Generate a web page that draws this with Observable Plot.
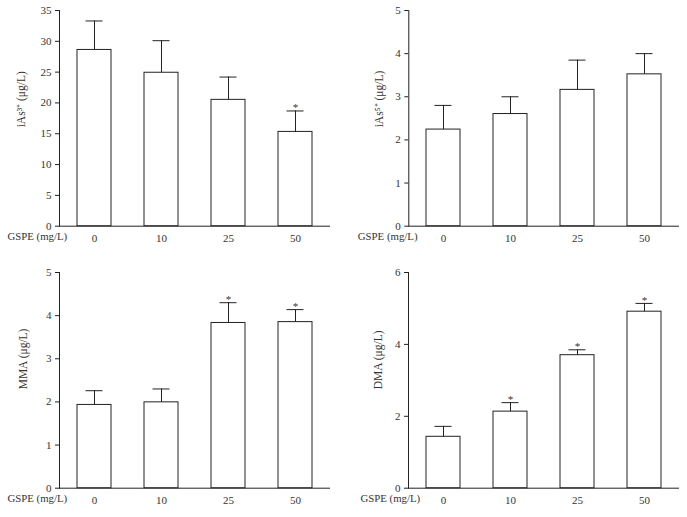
<!DOCTYPE html>
<html>
<head>
<meta charset="utf-8">
<script src="https://cdn.jsdelivr.net/npm/d3@7"></script>
<script src="https://cdn.jsdelivr.net/npm/@observablehq/plot@0.6"></script>
<style>
  html, body { margin: 0; padding: 0; background: #fff; }
  #wrap { position: relative; width: 687px; height: 517px; background: #fff; overflow: hidden; }
  #wrap > div { position: absolute; }
</style>
</head>
<body>
<div id="wrap">
  <div id="p1" style="left:0px;top:0px"></div>
  <div id="p2" style="left:344px;top:0px"></div>
  <div id="p3" style="left:0px;top:262.3px"></div>
  <div id="p4" style="left:344px;top:262.3px"></div>
</div>
<script>
// ---- data ----
const doses = ["0", "10", "25", "50"];
const xTitle = "GSPE (mg/L)";

const iAs3Mean = [28.6, 24.9, 20.5, 15.3];
const iAs3SD   = [4.7, 5.2, 3.7, 3.4];
const iAs3Sig  = [false, false, false, true];

const iAs5Mean = [2.24, 2.60, 3.16, 3.52];
const iAs5SD   = [0.56, 0.40, 0.69, 0.48];
const iAs5Sig  = [false, false, false, false];

const mmaMean = [1.93, 1.99, 3.83, 3.85];
const mmaSD   = [0.33, 0.31, 0.47, 0.29];
const mmaSig  = [false, false, true, true];

const dmaMean = [1.43, 2.13, 3.70, 4.91];
const dmaSD   = [0.29, 0.25, 0.15, 0.23];
const dmaSig  = [false, true, true, true];

const iAs3Ticks = [0, 5, 10, 15, 20, 25, 30, 35];
const iAs5Ticks = [0, 1, 2, 3, 4, 5];
const mmaTicks  = [0, 1, 2, 3, 4, 5];
const dmaTicks  = [0, 2, 4, 6];

const iAs3Label = "iAs\u00B3\u207A (\u03BCg/L)";
const iAs5Label = "iAs\u2075\u207A (\u03BCg/L)";
const mmaLabel  = "MMA (\u03BCg/L)";
const dmaLabel  = "DMA (\u03BCg/L)";

const ink = "#222";

function panel({mean, sd, sig, ticks, label, labelOffset, marginLeft, marginRight, titleDx}) {
  const rows = doses.map((d, i) => ({dose: d, v: mean[i], e: mean[i] + sd[i], sig: sig[i]}));
  return Plot.plot({
    width: 343,
    height: 258,
    marginTop: 10,
    marginBottom: 32.3,
    marginLeft,
    marginRight,
    style: {fontFamily: "'Liberation Serif', 'Times New Roman', serif", fontSize: "11px", color: "#333", background: "white"},
    x: {domain: doses, paddingInner: 0.5, paddingOuter: 0.25, label: null},
    y: {domain: [ticks[0], ticks[ticks.length - 1]], label: null},
    marks: [
      Plot.axisY({ticks, tickFormat: d3.format("d"), tickSize: 4, tickPadding: 4, label: null, stroke: ink}),
      Plot.axisX({tickSize: 0, tickPadding: 8, label: null}),
      Plot.frame({anchor: "left", stroke: ink}),
      Plot.ruleY([0], {stroke: ink}),
      Plot.barY(rows, {x: "dose", y: "v", fill: "white", stroke: ink, strokeWidth: 1}),
      Plot.ruleX(rows, {x: "dose", y1: "v", y2: "e", stroke: ink}),
      Plot.tickY(rows, {x: "dose", y: "e", stroke: ink, insetLeft: 8.5, insetRight: 8.5}),
      Plot.text(rows.filter(d => d.sig), {x: "dose", y: "e", text: () => "*", dy: -3, fill: "#333"}),
      Plot.text([label], {frameAnchor: "left", rotate: -90, dx: -labelOffset, dy: 9, fill: "#333", fontSize: 11.5}),
      Plot.text([xTitle], {frameAnchor: "bottom-left", textAnchor: "start", dx: titleDx, dy: 14, fill: "#333", fontSize: 10.8})
    ]
  });
}

document.getElementById("p1").appendChild(panel({mean: iAs3Mean, sd: iAs3SD, sig: iAs3Sig, ticks: iAs3Ticks, label: iAs3Label, labelOffset: 38, marginLeft: 59, marginRight: 13, titleDx: -52}));
document.getElementById("p2").appendChild(panel({mean: iAs5Mean, sd: iAs5SD, sig: iAs5Sig, ticks: iAs5Ticks, label: iAs5Label, labelOffset: 29, marginLeft: 64.3, marginRight: 8, titleDx: -51}));
document.getElementById("p3").appendChild(panel({mean: mmaMean, sd: mmaSD, sig: mmaSig, ticks: mmaTicks, label: mmaLabel, labelOffset: 36, marginLeft: 59, marginRight: 13, titleDx: -52}));
document.getElementById("p4").appendChild(panel({mean: dmaMean, sd: dmaSD, sig: dmaSig, ticks: dmaTicks, label: dmaLabel, labelOffset: 30, marginLeft: 64, marginRight: 8, titleDx: -48}));
</script>
</body>
</html>
